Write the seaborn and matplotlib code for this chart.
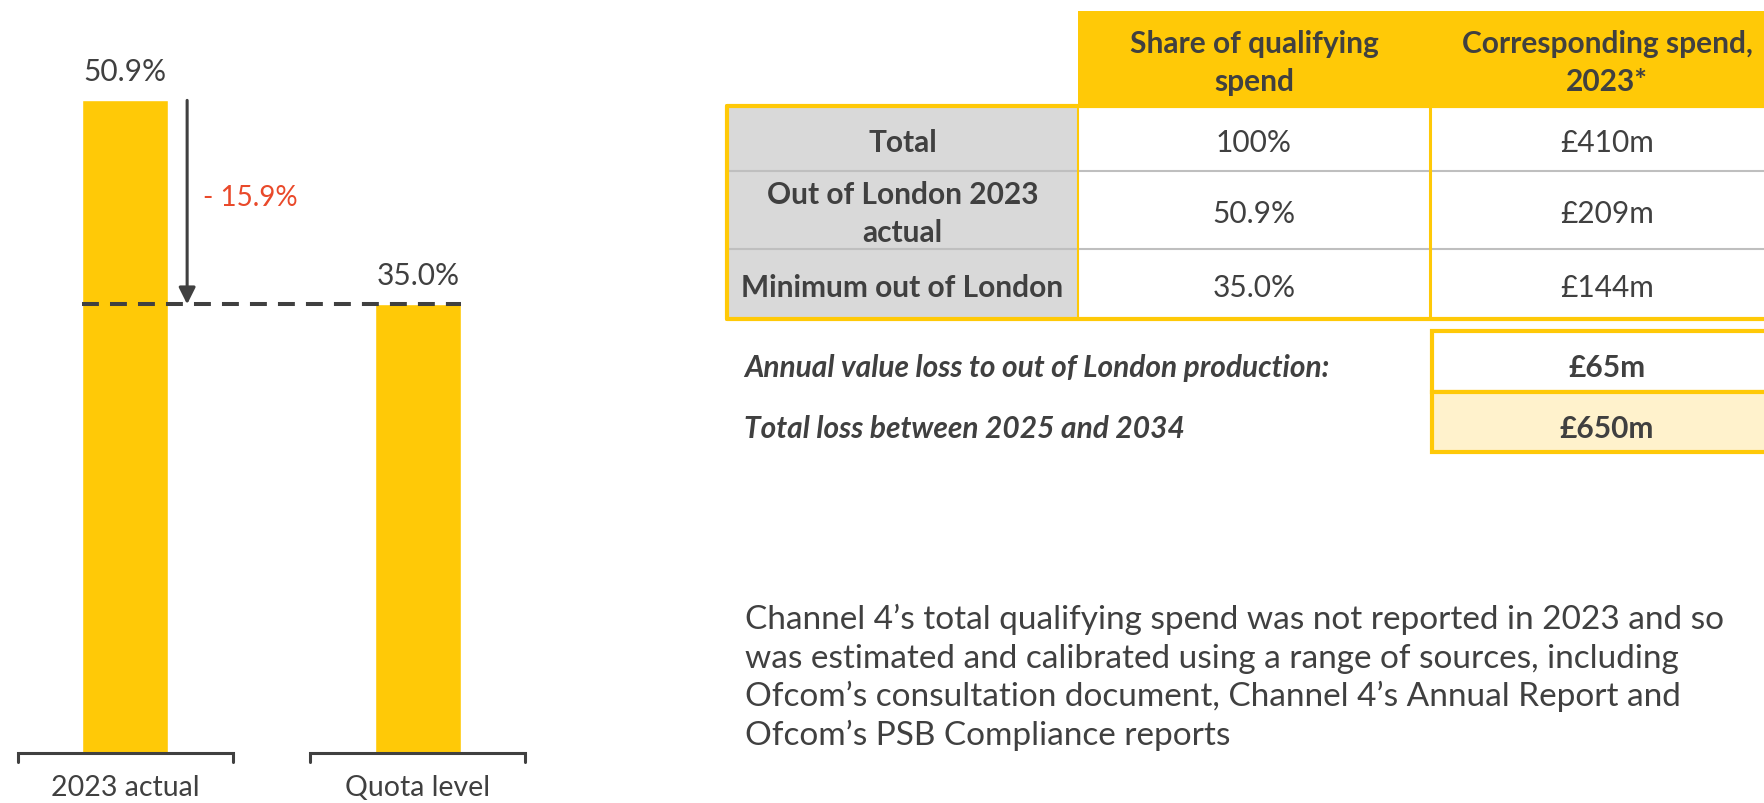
import matplotlib.pyplot as plt
import seaborn as sns
from matplotlib.patches import Rectangle

# dados
categories = ['2023 actual', 'Quota level']
shares = [50.9, 35.0]
bar_labels = ['50.9%', '35.0%']
gap_label = '- 15.9%'

table_header = ['Share of qualifying\nspend', 'Corresponding spend,\n2023*']
row_labels = ['Total', 'Out of London 2023\nactual', 'Minimum out of London']
share_col = ['100%', '50.9%', '35.0%']
spend_col = ['£410m', '£209m', '£144m']
loss_labels = ['Annual value loss to out of London production:',
               'Total loss between 2025 and 2034']
loss_values = ['£65m', '£650m']
note_lines = [
    'Channel 4\u2019s total qualifying spend was not reported in 2023 and so',
    'was estimated and calibrated using a range of sources, including',
    'Ofcom\u2019s consultation document, Channel 4\u2019s Annual Report and',
    'Ofcom\u2019s PSB Compliance reports',
]

YELLOW = '#FFC907'
LIGHT_YELLOW = '#FFF2CC'
GREY_CELL = '#D9D9D9'
DARK = '#404040'
RED = '#E9492A'

sns.set_style('white')
plt.rcParams['font.family'] = ['Lato', 'DejaVu Sans']

W, H = 1765, 804
fig = plt.figure(figsize=(W / 100, H / 100), dpi=100)

# ---- gráfico de barras (lado esquerdo)
ax = fig.add_axes([2 / W, 50 / H, 539 / W, 718 / H])
sns.barplot(x=categories, y=shares, color=YELLOW, saturation=1,
            width=0.2935, ax=ax)
ax.set_xlim(-0.42, 1.42)
ax.set_ylim(0, 56)
ax.set_yticks([])
ax.set_xlabel('')
ax.set_ylabel('')
sns.despine(ax=ax, left=True, bottom=True)
ax.tick_params(axis='x', length=0, pad=15, labelsize=20.5, labelcolor=DARK)

for i, (v, lbl) in enumerate(zip(shares, bar_labels)):
    ax.annotate(lbl, xy=(i, v), xytext=(0, 14.4), textcoords='offset points',
                ha='center', va='baseline', fontsize=21.5, color=DARK)
    # colchete sob cada categoria
    ax.plot([i - 0.367, i - 0.367, i + 0.367, i + 0.367], [-0.7, 0, 0, -0.7],
            color=DARK, lw=2.2, clip_on=False, solid_joinstyle='miter')

# linha tracejada no nível da quota
half = 0.2935 / 2
ax.hlines(shares[1], -half, 1 + half, colors=DARK, lw=2.9,
          linestyles=(0, (4.2, 2.75)), zorder=3)

# seta da diferença
ax.annotate('', xy=(0.212, shares[1]), xytext=(0.212, shares[0]),
            arrowprops=dict(arrowstyle='-|>', color=DARK, lw=2.2,
                            mutation_scale=25, shrinkA=0, shrinkB=0))
ax.text(0.266, (shares[0] + shares[1]) / 2 + 0.4, gap_label, ha='left',
        va='center', fontsize=20, color=RED)

# ---- tabela (lado direito), em coordenadas de pixel
tab = fig.add_axes([0, 0, 1, 1])
tab.set_xlim(0, W)
tab.set_ylim(H, 0)
tab.axis('off')

x_lab, x_c1, x_c2, x_end = 727, 1078, 1430, 1800
rows_y = [107, 172, 250, 320]
FS = 21.5

tab.add_patch(Rectangle((x_c1, 12), x_end - x_c1, 95, color=YELLOW, lw=0))
tab.add_patch(Rectangle((x_lab, 107), x_c1 - x_lab, 213, color=GREY_CELL, lw=0))
for y in rows_y[1:-1]:
    tab.plot([x_lab, x_end], [y, y], color='#BFBFBF', lw=1.5)
tab.plot([x_lab, x_end], [107, 107], color=YELLOW, lw=3)
tab.plot([x_lab, x_end], [320, 320], color=YELLOW, lw=3)
tab.plot([x_lab, x_lab], [107, 320], color=YELLOW, lw=3)
tab.plot([x_c1, x_c1], [107, 320], color=YELLOW, lw=1.5)
tab.plot([x_c2, x_c2], [107, 320], color=YELLOW, lw=2.2)

cx1 = (x_c1 + x_c2) / 2
cx2 = 1607
cxl = (x_lab + x_c1) / 2
for cx, txt in zip([cx1, cx2], table_header):
    tab.text(cx, 63, txt, ha='center', va='center', fontsize=FS,
             fontweight='bold', color=DARK, linespacing=1.47)
for r in range(3):
    cy = (rows_y[r] + rows_y[r + 1]) / 2 + 3
    tab.text(cxl, cy, row_labels[r], ha='center', va='center', fontsize=FS,
             fontweight='bold', color=DARK, linespacing=1.45)
    tab.text(cx1, cy, share_col[r], ha='center', va='center', fontsize=FS,
             color=DARK)
    tab.text(cx2, cy, spend_col[r], ha='center', va='center', fontsize=FS,
             color=DARK)

# caixas de perda
box_y = [332, 393, 453]
for k, fill in enumerate(['white', LIGHT_YELLOW]):
    tab.add_patch(Rectangle((1432, box_y[k]), x_end - 1432,
                            box_y[k + 1] - box_y[k], facecolor=fill,
                            edgecolor=YELLOW, lw=3))
    cy = (box_y[k] + box_y[k + 1]) / 2 + 6
    tab.text(cx2, cy, loss_values[k], ha='center', va='center', fontsize=FS,
             fontweight='bold', color=DARK)
    tab.text(744, cy, loss_labels[k], ha='left', va='center', fontsize=FS,
             fontweight='bold', fontstyle='italic', color=DARK)

# nota
for j, line in enumerate(note_lines):
    tab.text(745, 629 + 38.6 * j, line, ha='left', va='baseline', fontsize=24,
             color=DARK)

fig.savefig('out.png', dpi=100, facecolor='white')
